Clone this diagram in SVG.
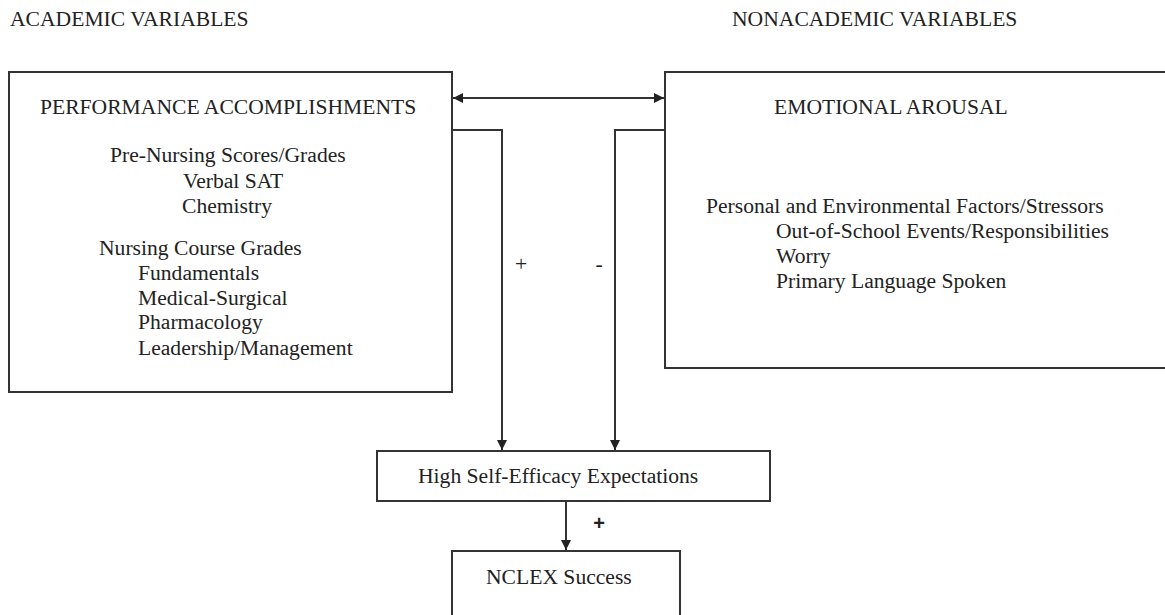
<svg xmlns="http://www.w3.org/2000/svg" width="1165" height="615" viewBox="0 0 1165 615">
<style>
.box{fill:#fff;stroke:#333;stroke-width:2}
.t{font-family:"Liberation Serif","Times New Roman",serif;font-size:21.6px;fill:#222}
.c{fill:none;stroke:#333;stroke-width:2}
.pb{font-family:"Liberation Sans",Arial,sans-serif;font-size:20px;font-weight:bold;fill:#222}
</style>
<defs>
<marker id="ah" viewBox="0 0 10 10" refX="10" refY="5" markerWidth="5" markerHeight="5" orient="auto-start-reverse" markerUnits="strokeWidth">
<path d="M0,0 L10,5 L0,10 z" fill="#222"/>
</marker>
</defs>
<rect width="1165" height="615" fill="#fff"/>
<text class="t" x="10" y="26">ACADEMIC VARIABLES</text>
<text class="t" x="732" y="26">NONACADEMIC VARIABLES</text>
<g id="performance">
<rect class="box" x="9" y="72" width="443" height="320"/>
<text class="t" x="40" y="114">PERFORMANCE ACCOMPLISHMENTS</text>
<text class="t" x="110" y="162">Pre-Nursing Scores/Grades</text>
<text class="t" x="183" y="188">Verbal SAT</text>
<text class="t" x="182" y="213">Chemistry</text>
<text class="t" x="99" y="255">Nursing Course Grades</text>
<text class="t" x="138" y="280">Fundamentals</text>
<text class="t" x="138" y="305">Medical-Surgical</text>
<text class="t" x="138" y="329">Pharmacology</text>
<text class="t" x="138" y="355">Leadership/Management</text>
</g>
<g id="emotional">
<rect class="box" x="665" y="72" width="520" height="296"/>
<text class="t" x="774" y="114">EMOTIONAL AROUSAL</text>
<text class="t" x="706" y="213">Personal and Environmental Factors/Stressors</text>
<text class="t" x="776" y="238">Out-of-School Events/Responsibilities</text>
<text class="t" x="776" y="263">Worry</text>
<text class="t" x="776" y="288">Primary Language Spoken</text>
</g>
<g id="selfefficacy">
<rect class="box" x="377" y="451" width="393" height="50"/>
<text class="t" x="418" y="483">High Self-Efficacy Expectations</text>
</g>
<g id="nclex">
<rect class="box" x="452" y="551" width="228" height="80"/>
<text class="t" x="486" y="584">NCLEX Success</text>
</g>
<g id="connectors">
<line class="c" x1="453" y1="98" x2="664" y2="98" marker-start="url(#ah)" marker-end="url(#ah)"/>
<polyline class="c" points="452,130 502,130 502,450" marker-end="url(#ah)"/>
<polyline class="c" points="665,130 615,130 615,450" marker-end="url(#ah)"/>
<line class="c" x1="566" y1="501" x2="566" y2="550" marker-end="url(#ah)"/>
<text class="t" x="521" y="271" text-anchor="middle">+</text>
<text class="t" x="599" y="271" text-anchor="middle">-</text>
<text class="pb" x="599" y="530" text-anchor="middle">+</text>
</g>
</svg>
